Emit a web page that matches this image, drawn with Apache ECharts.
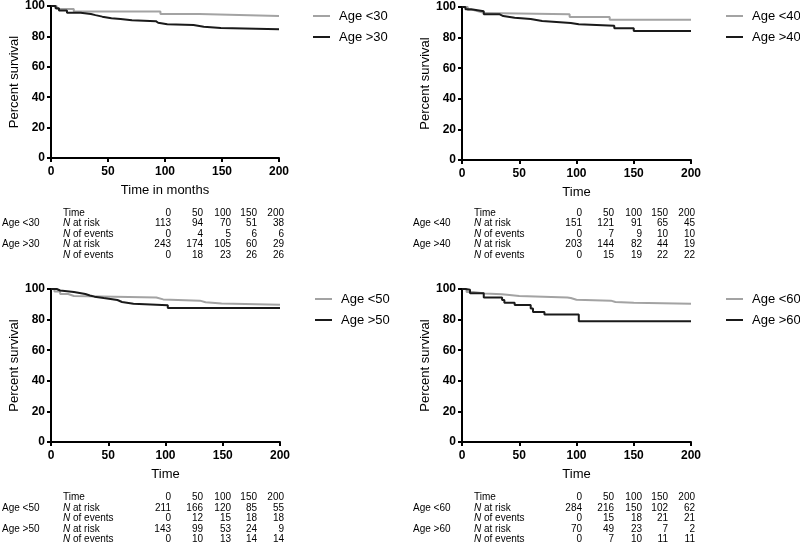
<!DOCTYPE html>
<html><head><meta charset="utf-8">
<script src="https://cdn.jsdelivr.net/npm/echarts@6/dist/echarts.min.js"></script>
<style>html,body{margin:0;padding:0;background:#fff}#c{width:800px;height:544px}</style>
</head><body><div id="c"></div>
<script>
// ---- Survival curve data (time in months, percent survival) ----
const p1LowT  = [0, 5, 20, 96, 130, 200];
const p1LowS  = [100, 98, 96.3, 94.7, 93.4, 93.4];
const p1HighT = [0, 4, 7, 14, 26, 35, 39, 45, 53, 61, 71, 92, 94, 102, 125, 134, 149, 200];
const p1HighS = [100, 98.5, 97, 95.6, 94.7, 94, 93, 92, 91.5, 90.6, 90, 89, 88, 87.5, 86.4, 85.5, 84.7, 84.7];

const p2LowT  = [0, 5, 10, 15, 20, 94, 129, 200];
const p2LowS  = [100, 98, 97, 96, 95.3, 93.5, 91.7, 91.7];
const p2HighT = [0, 3, 8, 19, 33, 36, 46, 60, 70, 95, 102, 133, 150, 200];
const p2HighS = [100, 98.5, 97.2, 95.2, 94.1, 93, 92.2, 90.9, 89.6, 88.7, 87.8, 86.1, 84.3, 84.3];

const p3LowT  = [0, 3, 8, 15, 20, 92, 98, 130, 135, 149, 200];
const p3LowS  = [100, 98.3, 96.7, 95.4, 94.5, 93.2, 92.4, 91.3, 90.6, 89.7, 89.7];
const p3HighT = [0, 5, 8, 20, 30, 34, 38, 46, 58, 62, 72, 102, 200];
const p3HighS = [100, 99, 98, 96.7, 95.8, 95, 94.1, 92.8, 91.5, 90.4, 89.3, 87.6, 87.6];

const p4LowT  = [0, 4, 10, 20, 35, 50, 92, 95, 100, 130, 134, 150, 200];
const p4LowS  = [100, 98, 97, 96.5, 95.5, 94.5, 94.1, 93, 92.4, 91.5, 91, 90.4, 90.4];
const p4HighT = [0, 3, 7, 19, 35, 37, 46, 60, 62, 72, 102, 200];
const p4HighS = [100, 99.5, 97.2, 94.5, 92.8, 91, 89.5, 87.3, 85, 83.4, 79, 79];

// ---- Labels ----
const seriesNames = [["Age <30", "Age >30"], ["Age <40", "Age >40"], ["Age <50", "Age >50"], ["Age <60", "Age >60"]];
const xTitles = ["Time in months", "Time", "Time", "Time"];
const yTitle = "Percent survival";
const tableTimes = [0, 50, 100, 150, 200];

// ---- Number-at-risk tables ----
const p1LowRisk = [113, 94, 70, 51, 38],  p1LowEvents = [0, 4, 5, 6, 6];
const p1HighRisk = [243, 174, 105, 60, 29], p1HighEvents = [0, 18, 23, 26, 26];
const p2LowRisk = [151, 121, 91, 65, 45], p2LowEvents = [0, 7, 9, 10, 10];
const p2HighRisk = [203, 144, 82, 44, 19], p2HighEvents = [0, 15, 19, 22, 22];
const p3LowRisk = [211, 166, 120, 85, 55], p3LowEvents = [0, 12, 15, 18, 18];
const p3HighRisk = [143, 99, 53, 24, 9], p3HighEvents = [0, 10, 13, 14, 14];
const p4LowRisk = [284, 216, 150, 102, 62], p4LowEvents = [0, 15, 18, 21, 21];
const p4HighRisk = [70, 49, 23, 7, 2], p4HighEvents = [0, 7, 10, 11, 11];

const curves = [
  [[p1LowT, p1LowS], [p1HighT, p1HighS]],
  [[p2LowT, p2LowS], [p2HighT, p2HighS]],
  [[p3LowT, p3LowS], [p3HighT, p3HighS]],
  [[p4LowT, p4LowS], [p4HighT, p4HighS]]
];
const tables = [
  [p1LowRisk, p1LowEvents, p1HighRisk, p1HighEvents],
  [p2LowRisk, p2LowEvents, p2HighRisk, p2HighEvents],
  [p3LowRisk, p3LowEvents, p3HighRisk, p3HighEvents],
  [p4LowRisk, p4LowEvents, p4HighRisk, p4HighEvents]
];

// ---- Layout ----
const grids = [
  {left: 51, top: 6, width: 228, height: 152},
  {left: 462, top: 7, width: 229, height: 153},
  {left: 51, top: 289, width: 229, height: 153},
  {left: 462, top: 289, width: 229, height: 153}
];
const legendPos = [
  {x: 313, y: [16.5, 37.5]},
  {x: 726, y: [16.5, 37.5]},
  {x: 315, y: [299.5, 320.5]},
  {x: 726, y: [299.5, 320.5]}
];
const tablePos = [
  {dx: 0, y0: 213.3},
  {dx: 411, y0: 213.3},
  {dx: 0, y0: 497.7},
  {dx: 411, y0: 497.7}
];
const rowGap = 10.4;
const colRight = [171, 203, 231, 257, 284];
const COLORS = ['#a3a3a3', '#1a1a1a'];
const FONT = '"Liberation Sans", Arial, Helvetica, sans-serif';

const option = {
  animation: false,
  backgroundColor: '#fff',
  grid: grids.map(g => Object.assign({containLabel: false}, g)),
  xAxis: grids.map((g, i) => ({
    gridIndex: i, type: 'value', min: 0, max: 200, interval: 50,
    name: xTitles[i], nameLocation: 'middle', nameGap: 26,
    nameTextStyle: {fontFamily: FONT, fontSize: 13, color: '#000'},
    axisLine: {show: true, lineStyle: {color: '#000', width: 2}},
    axisTick: {show: true, length: 4, lineStyle: {color: '#000', width: 2}},
    axisLabel: {margin: 8, fontFamily: FONT, fontSize: 12, fontWeight: 'bold', color: '#000'},
    splitLine: {show: false}
  })),
  yAxis: grids.map((g, i) => ({
    gridIndex: i, type: 'value', min: 0, max: 100, interval: 20,
    name: yTitle, nameLocation: 'middle', nameGap: 30, nameRotate: 90,
    nameTextStyle: {fontFamily: FONT, fontSize: 13, color: '#000'},
    axisLine: {show: true, lineStyle: {color: '#000', width: 2}},
    axisTick: {show: true, length: 4, lineStyle: {color: '#000', width: 2}},
    axisLabel: {margin: 6, fontFamily: FONT, fontSize: 12, fontWeight: 'bold', color: '#000'},
    splitLine: {show: false}
  })),
  legend: [],
  series: [],
  graphic: []
};

curves.forEach((pair, i) => {
  pair.forEach((c, j) => {
    option.series.push({
      name: seriesNames[i][j], type: 'line', step: 'end',
      xAxisIndex: i, yAxisIndex: i, symbol: 'none',
      lineStyle: {color: COLORS[j], width: 2},
      itemStyle: {color: COLORS[j]},
      z: j === 1 ? 3 : 2,
      data: c[0].map((t, k) => [t, c[1][k]])
    });
    option.legend.push({
      data: [seriesNames[i][j]], left: legendPos[i].x, top: legendPos[i].y[j] - 7,
      orient: 'vertical', icon: 'rect', itemWidth: 17, itemHeight: 2, padding: 0,
      textStyle: {fontFamily: FONT, fontSize: 13, color: '#000', padding: [0, 0, 0, 4]},
      selectedMode: false
    });
  });
});

function txt(text, x, y, align, rich) {
  const st = {text: text, x: x, y: y, fill: '#000', font: '10px ' + FONT,
    textAlign: align, textVerticalAlign: 'middle'};
  if (rich) st.rich = {i: {fontStyle: 'italic', fontSize: 10, fontFamily: FONT, fill: '#000'}};
  return {type: 'text', style: st, silent: true};
}

tables.forEach((tb, i) => {
  const dx = tablePos[i].dx, y0 = tablePos[i].y0;
  const rows = [
    {g: '', lab: 'Time', vals: tableTimes, rich: false},
    {g: seriesNames[i][0], lab: '{i|N} at risk', vals: tb[0], rich: true},
    {g: '', lab: '{i|N} of events', vals: tb[1], rich: true},
    {g: seriesNames[i][1], lab: '{i|N} at risk', vals: tb[2], rich: true},
    {g: '', lab: '{i|N} of events', vals: tb[3], rich: true}
  ];
  rows.forEach((r, k) => {
    const y = y0 + k * rowGap;
    if (r.g) option.graphic.push(txt(r.g, dx + 2, y, 'left'));
    option.graphic.push(txt(r.lab, dx + 63, y, 'left', r.rich));
    r.vals.forEach((v, m) => option.graphic.push(txt(String(v), dx + colRight[m], y, 'right')));
  });
});

const chart = echarts.init(document.getElementById('c'), null, {renderer: 'canvas'});
chart.setOption(option);
</script>
</body></html>
